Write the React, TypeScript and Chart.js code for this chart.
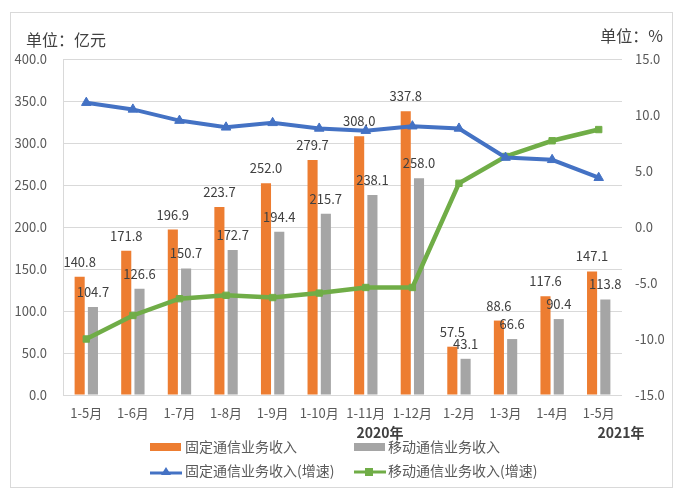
import React, { useEffect, useRef } from "react";
import { Chart, registerables } from "chart.js";

Chart.register(...registerables);

const categories = ["1-5月", "1-6月", "1-7月", "1-8月", "1-9月", "1-10月", "1-11月", "1-12月", "1-2月", "1-3月", "1-4月", "1-5月"];
const fixedRevenue = [140.8, 171.8, 196.9, 223.7, 252.0, 279.7, 308.0, 337.8, 57.5, 88.6, 117.6, 147.1];
const mobileRevenue = [104.7, 126.6, 150.7, 172.7, 194.4, 215.7, 238.1, 258.0, 43.1, 66.6, 90.4, 113.8];
const fixedGrowth = [11.1, 10.5, 9.5, 8.9, 9.3, 8.8, 8.6, 9.0, 8.8, 6.2, 6.0, 4.4];
const mobileGrowth = [-10.0, -7.9, -6.4, -6.1, -6.3, -5.9, -5.4, -5.4, 3.9, 6.3, 7.7, 8.7];
const leftTicks = { min: 0, max: 400, step: 50 };
const rightTicks = { min: -15, max: 15, step: 5 };
const yearLabels = ["2020年", "2021年"];
const seriesNames = ["固定通信业务收入", "移动通信业务收入", "固定通信业务收入(增速)", "移动通信业务收入(增速)"];

const ORANGE = "#ED7D31";
const GRAY = "#A5A5A5";
const BLUE = "#4472C4";
const GREEN = "#70AD47";
const TEXT = "#595959";
const FONT = "'Noto Sans CJK SC', 'Noto Sans', sans-serif";

const framePlugin = {
  id: "frame",
  beforeDraw(chart: any) {
    const ctx = chart.ctx;
    ctx.save();
    ctx.fillStyle = "#ffffff";
    ctx.fillRect(0, 0, chart.width, chart.height);
    ctx.strokeStyle = "#d9d9d9";
    ctx.lineWidth = 1;
    ctx.strokeRect(10.5, 12.5, 662, 475);
    ctx.restore();
  },
};

const labelPlugin = {
  id: "barLabels",
  afterDatasetsDraw(chart: any) {
    const ctx = chart.ctx;
    ctx.save();
    ctx.font = `13px ${FONT}`;
    ctx.fillStyle = "#404040";
    ctx.textAlign = "center";
    ctx.textBaseline = "middle";
    [0, 1].forEach((di) => {
      const meta = chart.getDatasetMeta(di);
      const data = chart.data.datasets[di].data as number[];
      meta.data.forEach((el: any, i: number) => {
        ctx.fillText(data[i].toFixed(1), el.x, el.y - 15);
      });
    });
    ctx.restore();
  },
};

const decorPlugin = {
  id: "decor",
  afterDraw(chart: any) {
    const ctx = chart.ctx;
    ctx.save();
    ctx.fillStyle = "#404040";
    ctx.textBaseline = "middle";
    ctx.font = `16px ${FONT}`;
    ctx.textAlign = "left";
    ctx.fillText("单位：亿元", 26, 40);
    ctx.textAlign = "right";
    ctx.fillText("单位：%", 663, 36);

    ctx.font = `bold 14px ${FONT}`;
    ctx.textAlign = "center";
    ctx.fillText(yearLabels[0], 380, 433);
    ctx.fillText(yearLabels[1], 621, 433);

    // legend
    ctx.font = `14px ${FONT}`;
    ctx.fillStyle = TEXT;
    ctx.textAlign = "left";
    const r1 = 447;
    const r2 = 471;
    ctx.fillStyle = ORANGE;
    ctx.fillRect(150, r1 - 4, 31, 8);
    ctx.fillStyle = GRAY;
    ctx.fillRect(354, r1 - 4, 31, 8);
    ctx.fillStyle = TEXT;
    ctx.fillText(seriesNames[0], 185, r1);
    ctx.fillText(seriesNames[1], 388, r1);

    ctx.lineWidth = 3;
    ctx.strokeStyle = BLUE;
    ctx.beginPath();
    ctx.moveTo(150, r2 + 2);
    ctx.lineTo(182, r2 + 2);
    ctx.stroke();
    ctx.fillStyle = BLUE;
    ctx.beginPath();
    ctx.moveTo(166, r2 - 4);
    ctx.lineTo(171, r2 + 4);
    ctx.lineTo(161, r2 + 4);
    ctx.closePath();
    ctx.fill();

    ctx.strokeStyle = GREEN;
    ctx.beginPath();
    ctx.moveTo(354, r2 + 1);
    ctx.lineTo(386, r2 + 1);
    ctx.stroke();
    ctx.fillStyle = GREEN;
    ctx.fillRect(365, r2 - 3, 8, 8);

    ctx.fillStyle = TEXT;
    ctx.fillText(seriesNames[2], 185, r2);
    ctx.fillText(seriesNames[3], 388, r2);
    ctx.restore();
  },
};

export default function App() {
  const ref = useRef<HTMLCanvasElement | null>(null);
  useEffect(() => {
    if (!ref.current) return;
    const chart = new Chart(ref.current, {
      type: "bar",
      data: {
        labels: categories,
        datasets: [
          {
            type: "bar",
            label: seriesNames[0],
            data: fixedRevenue,
            backgroundColor: ORANGE,
            yAxisID: "y",
            categoryPercentage: 0.57,
            barPercentage: 0.76,
            order: 2,
          },
          {
            type: "bar",
            label: seriesNames[1],
            data: mobileRevenue,
            backgroundColor: GRAY,
            yAxisID: "y",
            categoryPercentage: 0.57,
            barPercentage: 0.76,
            order: 2,
          },
          {
            type: "line",
            label: seriesNames[2],
            data: fixedGrowth,
            borderColor: BLUE,
            backgroundColor: BLUE,
            borderWidth: 4,
            pointStyle: "triangle",
            pointRadius: 5.5,
            pointBorderWidth: 1,
            yAxisID: "y1",
            order: 0,
          },
          {
            type: "line",
            label: seriesNames[3],
            data: mobileGrowth,
            borderColor: GREEN,
            backgroundColor: GREEN,
            borderWidth: 4.5,
            pointStyle: "rect",
            pointRadius: 4.5,
            pointBorderWidth: 1,
            yAxisID: "y1",
            order: 0,
          },
        ],
      },
      options: {
        animation: false,
        responsive: false,
        maintainAspectRatio: false,
        layout: { padding: { top: 59, left: 0, right: 0, bottom: 0 } },
        plugins: {
          legend: { display: false },
          tooltip: { enabled: false },
        },
        scales: {
          x: {
            offset: true,
            grid: { display: false, drawTicks: false },
            border: { display: false },
            ticks: { color: TEXT, font: { size: 13, family: FONT }, padding: 10, maxRotation: 0, autoSkip: false },
            afterFit: (s: any) => { s.height = 105; },
          },
          y: {
            position: "left",
            min: leftTicks.min,
            max: leftTicks.max,
            ticks: { stepSize: leftTicks.step, color: TEXT, font: { size: 13, family: FONT }, padding: 16, callback: (v: any) => Number(v).toFixed(1) },
            grid: { color: "#d9d9d9", drawTicks: false },
            border: { display: true, color: "#d9d9d9" },
            afterFit: (s: any) => { s.width = 63; },
          },
          y1: {
            position: "right",
            min: rightTicks.min,
            max: rightTicks.max,
            ticks: { stepSize: rightTicks.step, color: TEXT, font: { size: 13, family: FONT }, padding: 13, callback: (v: any) => Number(v).toFixed(1) },
            grid: { display: false, drawTicks: false },
            border: { display: false },
            afterFit: (s: any) => { s.width = 64; },
          },
        },
      },
      plugins: [framePlugin, labelPlugin, decorPlugin],
    });
    return () => chart.destroy();
  }, []);
  return (
    <div style={{ position: "fixed", left: 0, top: 0, width: 686, height: 500, background: "#fff" }}>
      <canvas ref={ref} width={686} height={500} style={{ width: 686, height: 500, display: "block" }} />
    </div>
  );
}
